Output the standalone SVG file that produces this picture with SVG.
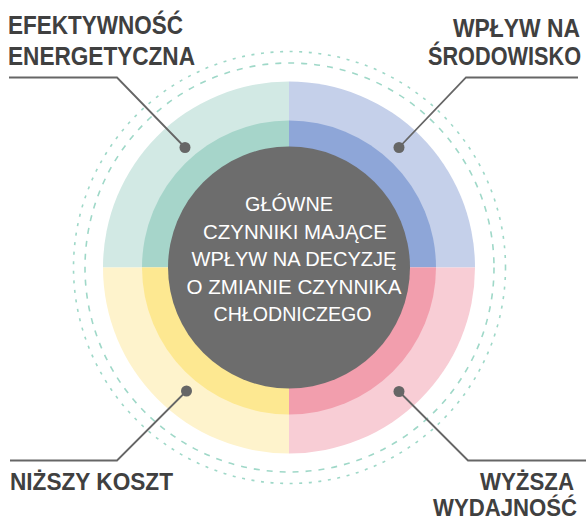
<svg xmlns="http://www.w3.org/2000/svg" width="586" height="523" viewBox="0 0 586 523">
<style>
.lbl{font-family:"Liberation Sans",Arial,sans-serif;font-weight:bold;font-size:26px;fill:#404040}
.lbs{font-family:"Liberation Sans",Arial,sans-serif;font-weight:bold;font-size:24.5px;fill:#404040}
.ctr{font-family:"Liberation Sans",Arial,sans-serif;font-size:21px;fill:#ffffff;text-anchor:middle}
.con{fill:none;stroke:#666666;stroke-width:1.8}
.dot{fill:#666666}
</style>
<rect width="586" height="523" fill="#ffffff"/>
<g id="guides" fill="none" stroke="#9fd8c8" stroke-width="1.6">
<circle cx="289.5" cy="267.5" r="216" stroke-dasharray="3 6.6"/>
<circle cx="289.5" cy="267.5" r="204.5" stroke-dasharray="6 7"/>
</g>
<g id="efektywnosc">
<path d="M289,267.5 L103,267.5 A186,186 0 0 1 289,81.5 Z" fill="#d2e9e4"/>
<path d="M289,267.5 L142,267.5 A147,147 0 0 1 289,120.5 Z" fill="#a6d5ca"/>
<text class="lbl" x="8" y="34" textLength="175" lengthAdjust="spacingAndGlyphs">EFEKTYWNOŚĆ</text>
<text class="lbl" x="8" y="65" textLength="187" lengthAdjust="spacingAndGlyphs">ENERGETYCZNA</text>
</g>
<g id="wplyw">
<path d="M289,267.5 L289,81.5 A186,186 0 0 1 475,267.5 Z" fill="#c5d0ea"/>
<path d="M289,267.5 L289,120.5 A147,147 0 0 1 436,267.5 Z" fill="#8ea6d8"/>
<text class="lbl" x="453" y="37" textLength="127" lengthAdjust="spacingAndGlyphs">WPŁYW NA</text>
<text class="lbl" x="428" y="65" textLength="153" lengthAdjust="spacingAndGlyphs">ŚRODOWISKO</text>
</g>
<g id="wydajnosc">
<path d="M289,267.5 L475,267.5 A186,186 0 0 1 289,453.5 Z" fill="#f8cdd5"/>
<path d="M289,267.5 L436,267.5 A147,147 0 0 1 289,414.5 Z" fill="#f29ead"/>
<text class="lbs" x="480" y="490" textLength="94" lengthAdjust="spacingAndGlyphs">WYŻSZA</text>
<text class="lbs" x="433" y="516" textLength="144" lengthAdjust="spacingAndGlyphs">WYDAJNOŚĆ</text>
</g>
<g id="koszt">
<path d="M289,267.5 L289,453.5 A186,186 0 0 1 103,267.5 Z" fill="#fef3cc"/>
<path d="M289,267.5 L289,414.5 A147,147 0 0 1 142,267.5 Z" fill="#fde891"/>
<text class="lbs" x="10" y="490" textLength="163" lengthAdjust="spacingAndGlyphs">NIŻSZY KOSZT</text>
</g>
<g id="center">
<circle cx="289" cy="267.5" r="121" fill="#6d6d6d"/>
<text class="ctr" x="289" y="211" textLength="88" lengthAdjust="spacingAndGlyphs">GŁÓWNE</text>
<text class="ctr" x="295" y="238.5" textLength="184" lengthAdjust="spacingAndGlyphs">CZYNNIKI MAJĄCE</text>
<text class="ctr" x="294" y="266" textLength="205" lengthAdjust="spacingAndGlyphs">WPŁYW NA DECYZJĘ</text>
<text class="ctr" x="294" y="293.5" textLength="215" lengthAdjust="spacingAndGlyphs">O ZMIANIE CZYNNIKA</text>
<text class="ctr" x="292.5" y="321" textLength="158" lengthAdjust="spacingAndGlyphs">CHŁODNICZEGO</text>
</g>
<g id="connectors">
<polyline class="con" points="9,77.5 117,77.5 185,147.5"/>
<polyline class="con" points="578,77.5 466,77.5 399,147.5"/>
<polyline class="con" points="586,460.5 468,460.5 399,391.5"/>
<polyline class="con" points="10,460.5 117,460.5 186.5,391"/>
<circle class="dot" cx="185" cy="147.5" r="5.5"/>
<circle class="dot" cx="399" cy="147.5" r="5.5"/>
<circle class="dot" cx="399" cy="391.5" r="5.5"/>
<circle class="dot" cx="186.5" cy="391" r="5.5"/>
</g>
</svg>
